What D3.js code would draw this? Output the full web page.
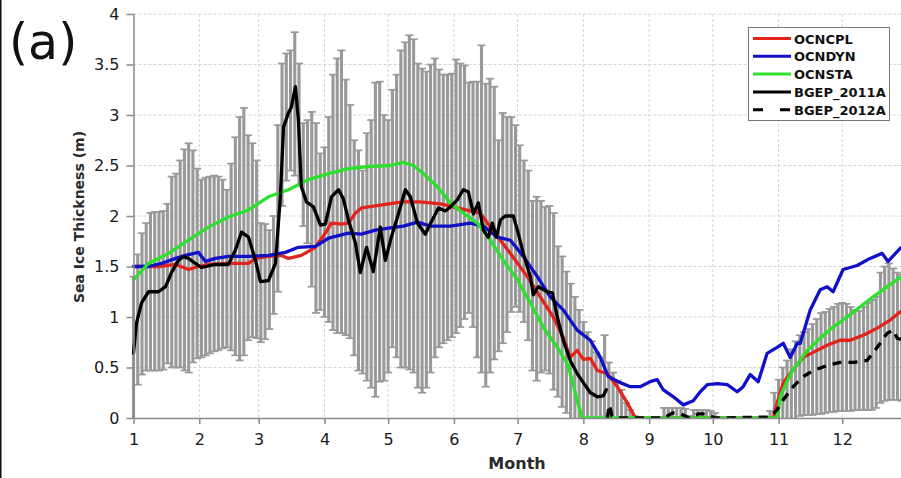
<!DOCTYPE html>
<html>
<head>
<meta charset="utf-8">
<script src="https://cdn.jsdelivr.net/npm/d3@7"></script>
<style>
  html, body { margin: 0; padding: 0; background: #fff; }
  svg { display: block; }
  text { font-family: "DejaVu Sans", sans-serif; }
</style>
</head>
<body>
<div id="chart"></div>
<script>
// ---------------- data ----------------
const monthStarts = [0, 31, 59, 90, 120, 151, 181, 212, 243, 273, 304, 334];
const monthLabels = ["1", "2", "3", "4", "5", "6", "7", "8", "9", "10", "11", "12"];
const yTicks = [0, 0.5, 1, 1.5, 2, 2.5, 3, 3.5, 4];
const yTickLabels = ["0", "0.5", "1", "1.5", "2", "2.5", "3", "3.5", "4"];

// error bars every 2nd day of the year (day 0, 2, 4, ... 364)
const errStep = 2;
const errUpper = [
  1.40,1.62,1.83,1.93,2.03,2.04,2.04,2.05,2.12,2.39,
  2.42,2.55,2.66,2.72,2.65,2.47,2.36,2.38,2.39,2.40,
  2.39,2.36,2.26,2.52,2.78,2.98,3.07,2.80,2.72,2.55,
  1.93,1.92,1.86,2.00,2.90,3.51,3.61,3.64,3.82,3.51,
  2.92,2.95,3.03,2.92,2.62,2.68,2.98,3.40,3.56,3.64,
  3.35,3.10,2.75,2.65,2.45,2.82,2.95,3.32,3.33,3.00,
  2.95,3.25,3.40,3.64,3.72,3.79,3.75,3.51,3.46,3.43,
  3.50,3.56,3.45,3.40,3.40,3.41,3.55,3.51,3.49,3.32,
  3.33,3.33,3.69,3.31,3.36,3.28,2.75,3.02,2.98,2.98,
  2.90,2.70,2.55,2.45,2.15,2.19,2.15,2.09,2.10,2.03,
  1.70,1.60,1.45,1.33,1.20,1.07,0.95,0.85,0.76,0.65,
  0.60,0.82,0.55,0.45,0.37,0.28,0.15,0.08,0.02,0,
  0,0,0,0,0,0.10,0.10,0.10,0.10,0.10,
  0.09,0.02,0.08,0.08,0.08,0.08,0.07,0.05,0,0,
  0,0,0,0,0,0,0,0,0,0,
  0.07,0.25,0.38,0.50,0.57,0.68,0.76,0.82,0.85,0.88,
  0.93,0.98,1.04,1.05,1.08,1.10,1.13,1.14,1.13,1.10,
  1.07,1.06,1.10,1.14,1.17,1.20,1.44,1.50,1.53,1.48,
  1.44,1.42,1.40
];
const errLower = [
  0.00,0.33,0.43,0.47,0.47,0.47,0.47,0.48,0.54,0.50,
  0.50,0.50,0.47,0.45,0.55,0.59,0.60,0.62,0.64,0.66,
  0.67,0.69,0.70,0.67,0.62,0.57,0.62,0.77,0.80,0.79,
  0.75,0.78,0.88,1.03,1.25,2.10,2.35,2.45,2.40,2.30,
  1.90,1.73,1.30,1.04,1.07,1.00,0.95,0.87,0.84,0.84,
  0.82,0.79,0.62,0.47,0.44,0.37,0.30,0.21,0.36,0.37,
  0.45,0.70,0.60,0.50,0.50,0.48,0.45,0.30,0.25,0.30,
  0.45,0.60,0.70,0.74,0.77,0.80,0.84,0.90,0.98,1.04,
  0.90,0.60,0.45,0.31,0.45,0.58,0.66,0.74,0.85,1.05,
  1.10,1.05,0.95,0.77,0.47,0.37,0.45,0.47,0.44,0.28,
  0.21,0.11,0.05,0,0,0,0,0,0,0,
  0,0,0,0,0,0,0,0,0,0,
  0,0,0,0,0,0,0,0,0,0,
  0,0,0,0,0,0,0,0,0,0,
  0,0,0,0,0,0,0,0,0,0,
  0,0,0,0,0,0,0,0.02,0.03,0.03,
  0.03,0.04,0.04,0.05,0.06,0.06,0.07,0.07,0.07,0.07,
  0.08,0.08,0.08,0.08,0.08,0.10,0.15,0.17,0.18,0.18,
  0.18,0.17,0.17
];

// series: [day of year, thickness (m)]
const ocncpl = [[0,1.5],[11.8,1.5],[19.8,1.52],[23.6,1.49],[25.9,1.47],[30.6,1.5],[35.3,1.52],[44.7,1.53],[54.2,1.53],[57.5,1.58],[63.6,1.6],[69.7,1.61],[73.0,1.58],[79.1,1.61],[85.7,1.69],[90.4,1.83],[93.3,1.93],[98.0,1.92],[101.3,1.93],[104.6,2.03],[107.4,2.08],[114.0,2.1],[123.4,2.13],[127.2,2.14],[135,2.14],[144.6,2.12],[152.6,2.08],[158.7,2.05],[163.4,2.03],[168.2,1.89],[172.9,1.76],[179.0,1.59],[185.6,1.4],[191.7,1.2],[197.8,1.0],[202.5,0.8],[205.8,0.6],[209.1,0.67],[212.0,0.58],[215.3,0.59],[218.6,0.47],[223.3,0.44],[228.0,0.31],[232.7,0.15],[236.5,0.0],[301.5,0.0],[303.3,0.15],[306.2,0.35],[310.9,0.48],[315.6,0.6],[320.3,0.65],[326.9,0.72],[333.0,0.77],[337.7,0.77],[343.9,0.82],[350.5,0.89],[356.6,0.97],[361.3,1.05],[365,1.09]];
const ocndyn = [[0,1.5],[7.1,1.5],[13.2,1.53],[19.8,1.58],[24.5,1.61],[30.6,1.64],[33.9,1.55],[38.6,1.58],[44.7,1.6],[54.2,1.6],[63.6,1.61],[71.6,1.64],[77.7,1.69],[85.7,1.7],[91.9,1.78],[101.3,1.83],[107.4,1.82],[114.0,1.86],[123.4,1.89],[127.2,1.9],[133.8,1.94],[139.9,1.9],[149.3,1.9],[158.7,1.93],[164.9,1.9],[171.5,1.79],[177.6,1.76],[183.7,1.6],[190.3,1.4],[196.4,1.2],[202.5,1.07],[209.1,0.87],[215.3,0.77],[220.0,0.6],[223.7,0.41],[229.4,0.35],[234.1,0.31],[238.8,0.31],[243.5,0.36],[246.8,0.38],[249.6,0.28],[254.4,0.21],[259.1,0.13],[263.8,0.17],[267.1,0.26],[270.4,0.33],[275.1,0.34],[279.8,0.33],[284.5,0.26],[287.3,0.31],[290.6,0.43],[294.4,0.36],[298.6,0.64],[303.3,0.7],[306.2,0.74],[309.5,0.6],[312.8,0.74],[314.2,0.74],[318.9,1.07],[323.6,1.27],[326.9,1.3],[329.7,1.25],[334.4,1.47],[341.0,1.51],[347.1,1.58],[352.8,1.63],[355.6,1.55],[361.3,1.68],[365,1.72]];
const ocnsta = [[0,1.37],[7.1,1.53],[16.5,1.63],[25.9,1.76],[35.3,1.89],[44.7,1.99],[54.2,2.06],[63.6,2.19],[73.0,2.26],[82.4,2.36],[91.9,2.42],[101.3,2.47],[110.7,2.49],[121.1,2.5],[127.2,2.53],[131.9,2.5],[136.6,2.42],[143.2,2.29],[149.3,2.13],[155.4,2.03],[162.0,1.93],[168.2,1.76],[174.3,1.56],[180.9,1.37],[187.0,1.14],[193.1,0.9],[199.7,0.7],[204.4,0.54],[206.8,0.37],[209.1,0.17],[211.5,0.0],[303.3,0.0],[304.8,0.21],[308.1,0.37],[310.9,0.48],[314.2,0.57],[317.5,0.67],[323.6,0.79],[329.7,0.9],[336.3,1.0],[342.4,1.1],[348.6,1.2],[355.2,1.3],[361.3,1.39],[365,1.44]];
const bgep2011a = [[0,0.64],[1.4,0.94],[3.8,1.14],[7.1,1.25],[11.8,1.25],[15.1,1.3],[17.9,1.44],[21.2,1.56],[23.6,1.6],[25.9,1.58],[29.2,1.53],[32.0,1.49],[38.6,1.52],[44.7,1.52],[48.0,1.66],[50.9,1.84],[54.2,1.79],[57.5,1.56],[59.8,1.35],[63.6,1.36],[66.9,1.53],[69.2,2.19],[70.7,2.88],[73.0,3.02],[74.4,3.08],[76.3,3.28],[77.7,2.95],[79.1,2.29],[81.5,2.14],[84.8,2.09],[88.1,1.91],[90.4,1.92],[93.3,2.19],[96.6,2.26],[98.9,2.17],[101.3,1.96],[104.6,1.73],[106.9,1.44],[109.8,1.69],[113.0,1.45],[116.3,1.89],[118.7,1.56],[121.5,1.79],[124.4,1.99],[128.1,2.26],[130.5,2.19],[133.8,1.93],[137.5,1.82],[140.8,1.96],[143.7,2.08],[147.0,2.05],[149.3,2.09],[152.6,2.16],[155.4,2.26],[157.8,2.24],[160.2,2.02],[162.5,2.13],[164.9,1.86],[167.2,1.79],[169.1,1.93],[171.0,1.79],[172.9,1.96],[175.2,2.0],[179.0,2.0],[181.3,1.83],[183.7,1.63],[187.0,1.4],[188.4,1.22],[190.8,1.3],[195.0,1.25],[197.4,1.24],[199.7,1.0],[202.5,0.77],[205.8,0.57],[209.1,0.44],[212.0,0.35],[215.3,0.25],[218.6,0.21],[221.4,0.22],[222.8,0.28]];
const bgep2012a = [[223.3,0.0],[224.2,0.13],[225.5,0.02],[228,0.0],[250,0.0],[254,0.05],[258,0.04],[262,0.0],[266,0.04],[270,0.04],[274,0.0],[300,0.01],[303.3,0.08],[306.2,0.18],[310.9,0.31],[315.6,0.41],[320.3,0.47],[326.9,0.52],[333.0,0.55],[339.1,0.55],[345.7,0.57],[350.5,0.70],[355.2,0.84],[358.0,0.87],[359.9,0.79],[361.3,0.78],[365,0.8]];

const legendNames = ["OCNCPL", "OCNDYN", "OCNSTA", "BGEP_2011A", "BGEP_2012A"];

// ---------------- drawing ----------------
const W = 901, H = 478;
const svg = d3.select("#chart").append("svg").attr("width", W).attr("height", H);

const x = d3.scaleLinear().domain([0, 365]).range([133.5, 133.5 + 365 * 2.122]);
const y = d3.scaleLinear().domain([0, 4]).range([418, 14]);

// frame line at left edge of figure
svg.append("line").attr("x1", 0.75).attr("x2", 0.75).attr("y1", 0).attr("y2", H)
  .attr("stroke", "#111").attr("stroke-width", 1.5);

// grid
const grid = svg.append("g");
yTicks.filter(d => d > 0).forEach(t => {
  grid.append("line").attr("x1", x(0)).attr("x2", x(365)).attr("y1", y(t)).attr("y2", y(t))
    .attr("stroke", "#d4d4d4").attr("stroke-width", 1).attr("stroke-dasharray", "3,2");
});
monthStarts.filter(d => d > 0).forEach(t => {
  grid.append("line").attr("x1", x(t)).attr("x2", x(t)).attr("y1", y(4)).attr("y2", y(0))
    .attr("stroke", "#d4d4d4").attr("stroke-width", 1).attr("stroke-dasharray", "3,2");
});

// error bars
const eb = svg.append("g").attr("stroke", "#999999");
errUpper.forEach((u, i) => {
  const lo = errLower[i];
  if (u <= 0 && lo <= 0) return;
  const cx = x(i * errStep);
  eb.append("line").attr("x1", cx).attr("x2", cx).attr("y1", y(lo)).attr("y2", y(u)).attr("stroke-width", 3.1);
  eb.append("line").attr("x1", cx - 4).attr("x2", cx + 4).attr("y1", y(u)).attr("y2", y(u)).attr("stroke-width", 1.7);
  if (lo > 0) eb.append("line").attr("x1", cx - 4).attr("x2", cx + 4).attr("y1", y(lo)).attr("y2", y(lo)).attr("stroke-width", 1.7);
});

// lines
const line = d3.line().x(d => x(d[0])).y(d => y(d[1])).curve(d3.curveLinear);
const series = [
  { data: ocncpl, color: "#e3241c", dash: null },
  { data: ocndyn, color: "#1010c8", dash: null },
  { data: ocnsta, color: "#2ee02e", dash: null },
  { data: bgep2011a, color: "#000", dash: null },
  { data: bgep2012a, color: "#000", dash: "9,7" }
];
svg.append("clipPath").attr("id", "plotclip").append("rect")
  .attr("x", x(0) - 2).attr("y", y(4) - 2).attr("width", x(365) - x(0) + 4).attr("height", y(0) - y(4) + 2);
const lg = svg.append("g").attr("clip-path", "url(#plotclip)");
series.forEach(s => {
  lg.append("path").datum(s.data).attr("d", line).attr("fill", "none")
    .attr("stroke", s.color).attr("stroke-width", 3.3)
    .attr("stroke-linejoin", "round").attr("stroke-linecap", s.dash ? "butt" : "round")
    .attr("stroke-dasharray", s.dash);
});

// axes
const yAxis = d3.axisLeft(y).tickValues(yTicks).tickFormat((d, i) => yTickLabels[i]).tickSize(7).tickPadding(7);
const xAxis = d3.axisBottom(x).tickValues(monthStarts).tickFormat((d, i) => monthLabels[i]).tickSize(6).tickPadding(10);

const gy = svg.append("g").attr("transform", `translate(${x(0)},0)`).call(yAxis);
const gx = svg.append("g").attr("transform", `translate(0,${y(0)})`).call(xAxis);
[gx, gy].forEach(g => {
  g.select(".domain").attr("stroke", "#8a8a8a").attr("stroke-width", 1.5);
  g.selectAll(".tick line").attr("stroke", "#8a8a8a").attr("stroke-width", 1.5);
  g.selectAll(".tick text").attr("fill", "#1a1a1a").style("font-size", "16px")
    .style("font-family", "'DejaVu Sans', sans-serif");
});
gx.select(".domain").attr("d", `M${x(0)},0.5H${x(365)}`);
gy.select(".domain").attr("d", `M0.5,${y(0)}V${y(4)}`);

// axis titles
svg.append("text").attr("x", 517).attr("y", 469).attr("text-anchor", "middle")
  .style("font-size", "16px").style("font-weight", "bold").attr("fill", "#2a2a2a").text("Month");
svg.append("text").attr("transform", `translate(84,217) rotate(-90)`).attr("text-anchor", "middle")
  .style("font-size", "14px").style("font-weight", "bold").attr("fill", "#2a2a2a").text("Sea Ice Thickness (m)");

// panel label
svg.append("text").attr("x", 9).attr("y", 59).style("font-size", "49px").attr("fill", "#111").text("(a)");

// legend
const leg = svg.append("g");
leg.append("rect").attr("x", 748.5).attr("y", 27.5).attr("width", 141).attr("height", 93)
  .attr("fill", "#fff").attr("stroke", "#777").attr("stroke-width", 1);
legendNames.forEach((name, i) => {
  const cy = 38.5 + i * 17.8;
  const s = series[i];
  leg.append("line").attr("x1", 753).attr("x2", 791).attr("y1", cy).attr("y2", cy)
    .attr("stroke", s.color).attr("stroke-width", 3).attr("stroke-dasharray", s.dash ? "10,17" : null);
  leg.append("text").attr("x", 794).attr("y", cy + 5).style("font-size", "13px").style("font-weight", "bold")
    .attr("fill", "#111").text(name);
});
</script>
</body>
</html>
